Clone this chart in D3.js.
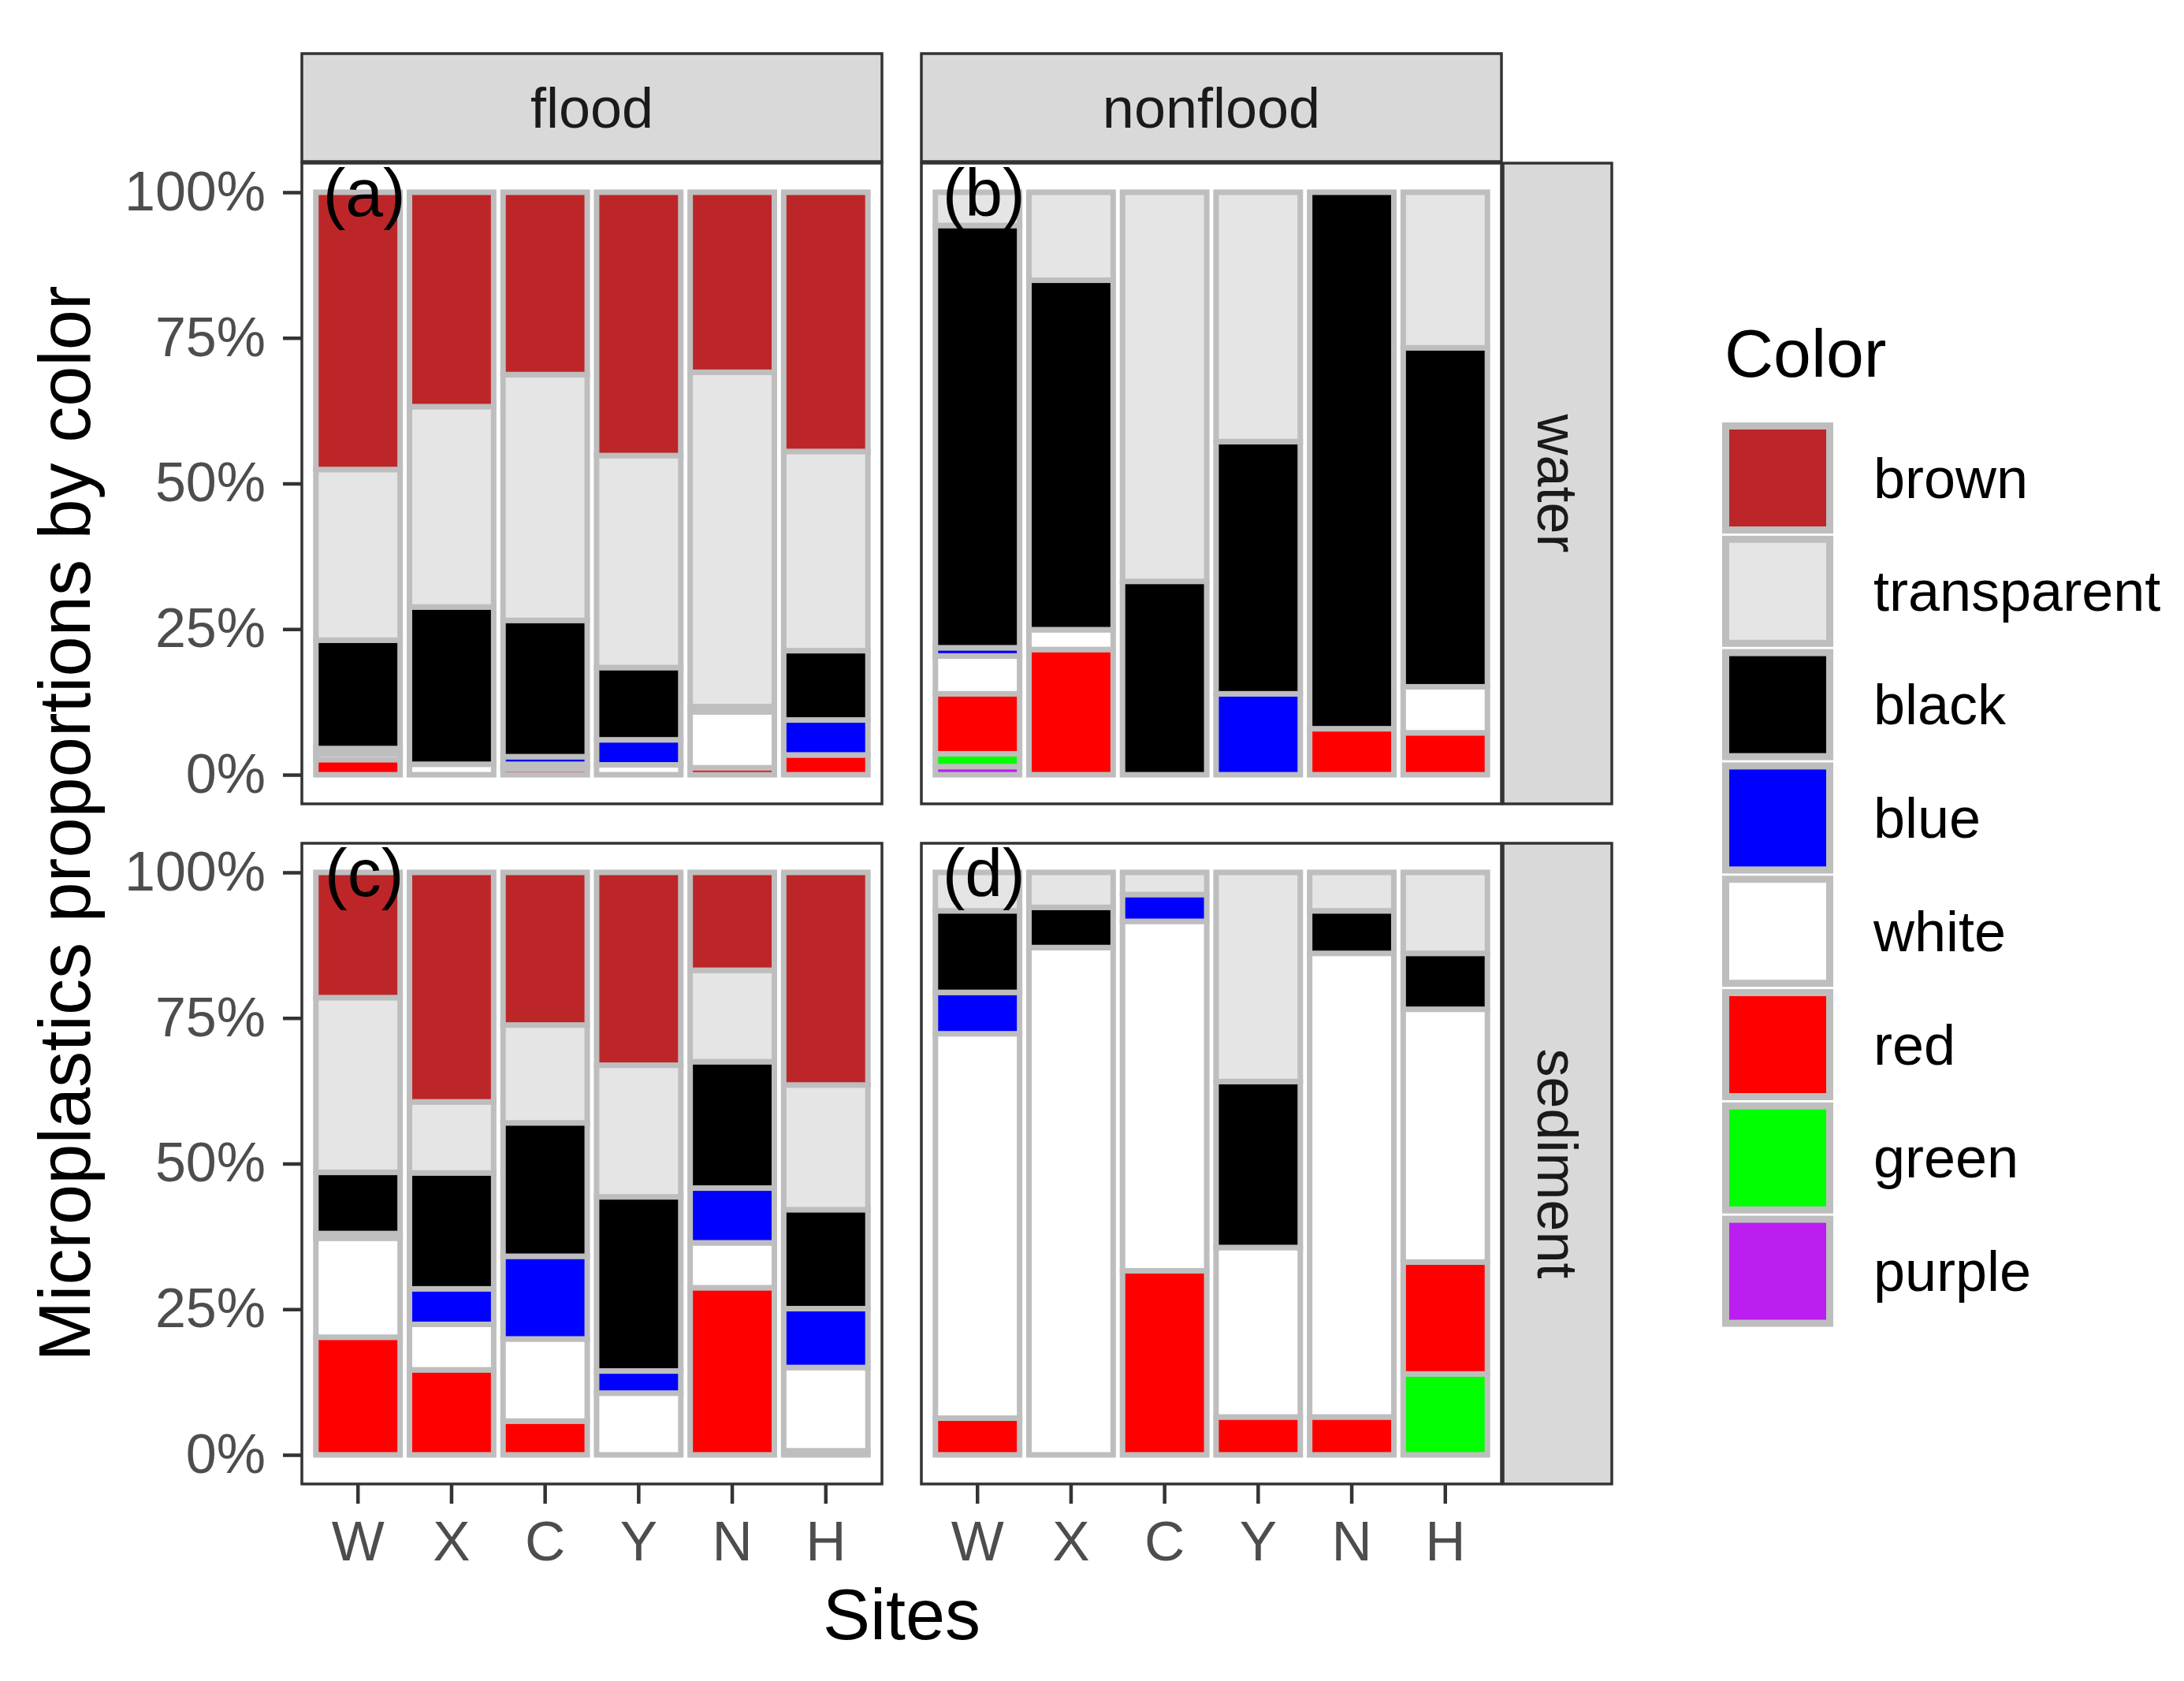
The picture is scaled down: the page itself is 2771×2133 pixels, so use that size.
<!DOCTYPE html>
<html lang="en">

<head>
    <meta charset="utf-8">
    <style>
        body {
            margin: 0;
            background: #fff;
            font-family: 'Liberation Sans', Arial, sans-serif;
        }
    </style>
</head>

<body>
    <div id="chart"></div>
    <script src="https://d3js.org/d3.v7.min.js"></script>
    <script>
        // sites on x axis, colour categories (legend order, top of stack first)
        const sites = ['W', 'X', 'C', 'Y', 'N', 'H'];
        const colorNames = ['brown', 'transparent', 'black', 'blue', 'white', 'red', 'green', 'purple'];
        const colorFills = ['#bd2628', '#e5e5e5', '#000000', '#0000ff', '#ffffff', '#ff0000', '#00ff00', '#bb1ef0'];
        const yTicks = [0, 0.25, 0.5, 0.75, 1];
        const cols = ['flood', 'nonflood'];
        const rows = ['water', 'sediment'];
        const panelTags = ['(a)', '(b)', '(c)', '(d)'];

        // percentages per colour (rows) and site (columns W X C Y N H)
        const floodWater = [
            [47.6, 36.8, 31.3, 45.2, 30.9, 44.5], // brown
            [29.3, 34.4, 42.2, 36.4, 57.4, 34.2], // transparent
            [18.6, 27.0, 23.4, 12.4, 0.9, 11.9],  // black
            [0.9, 0, 1.3, 4.3, 0, 6.0],           // blue
            [1.0, 1.8, 0.8, 1.7, 9.6, 0],         // white
            [2.6, 0, 1.0, 0, 1.2, 3.4],           // red
            [0, 0, 0, 0, 0, 0],                   // green
            [0, 0, 0, 0, 0, 0]                    // purple
        ];
        const nonfloodWater = [
            [0, 0, 0, 0, 0, 0],
            [5.7, 15.1, 66.8, 42.8, 0, 26.7],
            [72.5, 60.0, 33.2, 43.3, 92.1, 58.2],
            [1.4, 0, 0, 13.9, 0, 0],
            [6.5, 3.4, 0, 0, 0, 7.9],
            [10.3, 21.5, 0, 0, 7.9, 7.2],
            [2.2, 0, 0, 0, 0, 0],
            [1.4, 0, 0, 0, 0, 0]
        ];
        const floodSediment = [
            [21.5, 39.4, 26.2, 33.1, 16.8, 36.5],
            [30.0, 12.2, 16.8, 22.6, 15.7, 21.4],
            [10.5, 19.9, 22.9, 29.9, 21.7, 17.0],
            [0.8, 6.1, 14.2, 3.8, 9.4, 10.1],
            [17.0, 7.8, 14.1, 10.6, 7.7, 14.3],
            [20.2, 14.6, 5.8, 0, 28.7, 0.7],
            [0, 0, 0, 0, 0, 0],
            [0, 0, 0, 0, 0, 0]
        ];
        const nonfloodSediment = [
            [0, 0, 0, 0, 0, 0],
            [6.6, 6.0, 3.8, 35.9, 6.6, 13.9],
            [14.0, 6.9, 0, 28.5, 7.3, 9.6],
            [7.1, 0, 4.6, 0, 0, 0],
            [66.0, 87.1, 60.0, 29.1, 79.6, 43.4],
            [6.3, 0, 31.6, 6.5, 6.5, 19.2],
            [0, 0, 0, 0, 0, 13.9],
            [0, 0, 0, 0, 0, 0]
        ];
        const panels = [floodWater, nonfloodWater, floodSediment, nonfloodSediment];

        const W = 2771, H = 2133;
        const panelX = [383, 1169], panelY = [207, 1070];
        const panelW = 736, panelH = 813;
        const stripTop = 68, stripH = 137, stripRX = 1907, stripRW = 138;
        const barStroke = '#bebebe';

        const svg = d3.select('#chart').append('svg')
            .attr('width', W).attr('height', H)
            .style('font-family', "'Liberation Sans', Arial, sans-serif");
        svg.append('rect').attr('width', W).attr('height', H).attr('fill', '#fff');

        const x = d3.scaleBand().domain(sites).range([0, panelW])
            .paddingInner(0.1).paddingOuter(0.15);
        const y = d3.scaleLinear().domain([-0.05, 1.05]).range([panelH, 0]);
        const fill = d3.scaleOrdinal().domain(colorNames).range(colorFills);

        // stack bottom-up: purple first, brown on top
        const stackKeys = colorNames.slice().reverse();

        panels.forEach((mat, p) => {
            const c = p % 2, r = Math.floor(p / 2);
            const g = svg.append('g').attr('transform', `translate(${panelX[c]},${panelY[r]})`);

            g.append('rect').attr('width', panelW).attr('height', panelH).attr('fill', '#fff');

            const table = sites.map((s, j) => {
                const row = { site: s };
                const tot = d3.sum(mat, m => m[j]);
                colorNames.forEach((k, i) => row[k] = mat[i][j] / tot);
                return row;
            });
            const series = d3.stack().keys(stackKeys)(table);

            g.selectAll('g.layer').data(series).enter().append('g')
                .attr('class', 'layer')
                .attr('fill', d => fill(d.key))
                .selectAll('rect')
                .data(d => d.filter(v => v[1] - v[0] > 0))
                .enter().append('rect')
                .attr('x', d => x(d.data.site))
                .attr('width', x.bandwidth())
                .attr('y', d => y(d[1]))
                .attr('height', d => y(d[0]) - y(d[1]))
                .attr('stroke', barStroke)
                .attr('stroke-width', 7);

            g.append('text').text(panelTags[p])
                .attr('x', x('W') + x.bandwidth() / 2 + 8)
                .attr('y', y(1))
                .attr('dy', '0.35em')
                .attr('text-anchor', 'middle')
                .style('font-size', '86px').attr('fill', '#000');

            g.append('rect').attr('width', panelW).attr('height', panelH)
                .attr('fill', 'none').attr('stroke', '#333').attr('stroke-width', 3.5);

            if (c === 0) {
                const ax = g.append('g').call(d3.axisLeft(y).tickValues(yTicks)
                    .tickFormat(d3.format('.0%')).tickSize(24).tickPadding(22));
                ax.select('.domain').remove();
                ax.selectAll('line').attr('stroke', '#333').attr('stroke-width', 4.5);
                ax.selectAll('text').attr('fill', '#4d4d4d').style('font-size', '70px')
                    .attr('font-family', null);
            }
            if (r === 1) {
                const ax = g.append('g').attr('transform', `translate(0,${panelH})`)
                    .call(d3.axisBottom(x).tickSize(25).tickPadding(22));
                ax.select('.domain').remove();
                ax.selectAll('line').attr('stroke', '#333').attr('stroke-width', 4.5);
                ax.selectAll('text').attr('fill', '#4d4d4d').style('font-size', '71px')
                    .attr('font-family', null);
            }
            if (r === 0) {
                svg.append('rect').attr('x', panelX[c]).attr('y', stripTop)
                    .attr('width', panelW).attr('height', stripH)
                    .attr('fill', '#d9d9d9').attr('stroke', '#333').attr('stroke-width', 3.5);
                svg.append('text').text(cols[c])
                    .attr('x', panelX[c] + panelW / 2).attr('y', stripTop + stripH / 2)
                    .attr('dy', '0.35em').attr('text-anchor', 'middle')
                    .style('font-size', '72px').attr('fill', '#1a1a1a');
            }
            if (c === 1) {
                svg.append('rect').attr('x', stripRX).attr('y', panelY[r])
                    .attr('width', stripRW).attr('height', panelH)
                    .attr('fill', '#d9d9d9').attr('stroke', '#333').attr('stroke-width', 3.5);
                svg.append('text').text(rows[r])
                    .attr('transform', `translate(${stripRX + stripRW / 2},${panelY[r] + panelH / 2}) rotate(90)`)
                    .attr('dy', '0.35em').attr('text-anchor', 'middle')
                    .style('font-size', '72px').attr('fill', '#1a1a1a');
            }
        });

        // axis titles
        svg.append('text').text('Microplastics proportions by color')
            .attr('transform', `translate(82,${(panelY[0] + panelY[1] + panelH) / 2}) rotate(-90)`)
            .attr('dy', '0.35em').attr('text-anchor', 'middle')
            .style('font-size', '92px').attr('fill', '#000');
        svg.append('text').text('Sites')
            .attr('x', (panelX[0] + panelX[1] + panelW) / 2).attr('y', 2080)
            .attr('text-anchor', 'middle')
            .style('font-size', '90px').attr('fill', '#000');

        // legend
        const lg = svg.append('g').attr('transform', 'translate(2185,478)');
        lg.append('text').text('Color').attr('x', 3).attr('y', 0)
            .style('font-size', '86px').attr('fill', '#000');
        const keyStep = 143.8, keySize = 141;
        const keys = lg.selectAll('g.key').data(colorNames).enter().append('g')
            .attr('class', 'key')
            .attr('transform', (d, i) => `translate(0,${58 + i * keyStep})`);
        keys.append('rect')
            .attr('x', 4.5).attr('y', 4.5)
            .attr('width', keySize - 9).attr('height', keySize - 9)
            .attr('fill', d => fill(d))
            .attr('stroke', barStroke).attr('stroke-width', 9);
        keys.append('text').text(d => d)
            .attr('x', 192).attr('y', keySize / 2).attr('dy', '0.35em')
            .style('font-size', '72px').attr('fill', '#000');
    </script>
</body>

</html>
